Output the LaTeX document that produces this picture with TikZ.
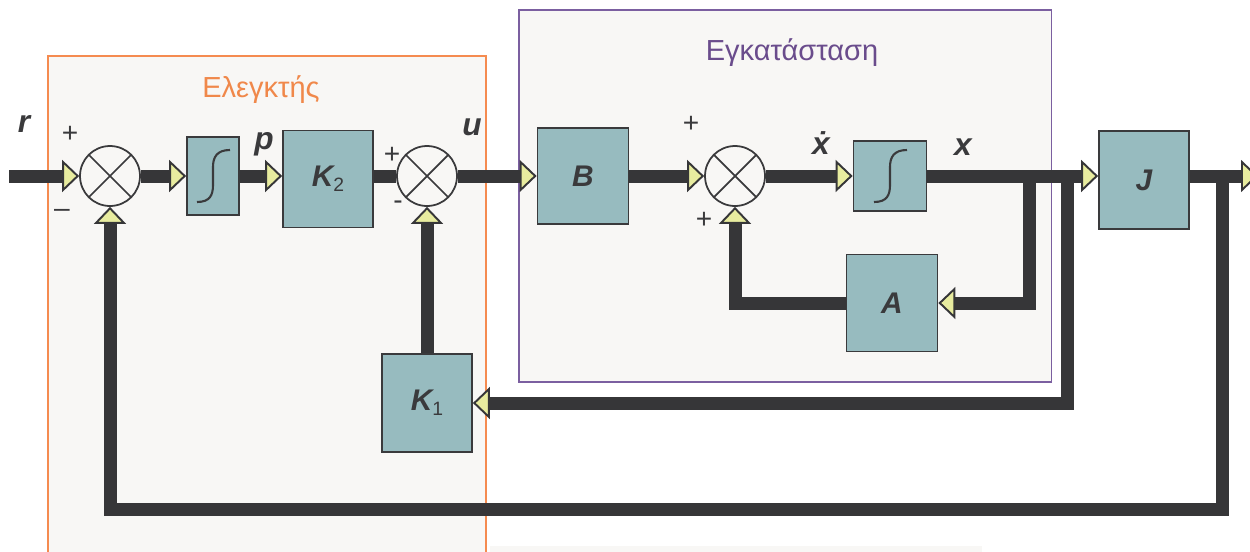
\documentclass[tikz,border=0pt]{standalone}
\usepackage{fontspec}
\setmainfont{Liberation Sans}
\usetikzlibrary{arrows.meta}

\definecolor{wirec}{HTML}{363638}
\definecolor{edgec}{HTML}{3A3A3C}
\definecolor{blockc}{HTML}{97BBBF}
\definecolor{tipc}{HTML}{E8EC9F}
\definecolor{panelc}{HTML}{F8F7F5}
\definecolor{ctrlc}{HTML}{F58B50}
\definecolor{plantc}{HTML}{7B5FA0}
\definecolor{ctrltext}{HTML}{F0884A}
\definecolor{planttext}{HTML}{6A4C8C}

\newcommand{\ksub}[1]{\raisebox{-0.3ex}{\fontsize{11}{11}\selectfont\mdseries\upshape#1}}

\begin{document}
\begin{tikzpicture}[
  x=0.02cm, y=-0.02cm,
  wire/.style={line width=0.26cm, draw=wirec},
  intip/.style={-{Triangle[length=0.34cm, width=0.64cm, fill=tipc, line width=1.1pt]}},
  block/.style={rectangle, draw=edgec, fill=blockc, line width=1pt, inner sep=0pt, text=edgec, font=\fontsize{17}{20}\selectfont\bfseries\itshape},
  sum/.style={circle, draw=edgec, fill=panelc, line width=1pt, minimum size=1.2cm, inner sep=0pt,
    path picture={\draw[edgec, line width=1pt] (path picture bounding box.north west) -- (path picture bounding box.south east)
      (path picture bounding box.north east) -- (path picture bounding box.south west);}},
  sig/.style={font=\fontsize{18}{20}\selectfont\bfseries\itshape, text=edgec, inner sep=0pt, anchor=base},
  pm/.style={font=\fontsize{16}{18}\selectfont, text=edgec, inner sep=0pt},
  panelbox/.style={fill=panelc, line width=0.9pt, inner sep=0pt, anchor=north west},
  paneltitle/.style={font=\fontsize{16.5}{20}\selectfont, inner sep=0pt, anchor=base},
  scurve/.style={draw=edgec, line width=1.2pt}
]
\useasboundingbox (0,0) rectangle (1250,551);
\fill[panelc] (490,546) rectangle (982,560);
\node[panelbox, draw=ctrlc, minimum width=8.76cm, minimum height=10.1cm] (ctrl) at (47,55) {};
\node[panelbox, draw=plantc, minimum width=10.66cm, minimum height=7.44cm] (plant) at (518,9) {};
\node[paneltitle, text=ctrltext] (ctrltitle) at (261,97) {Ελεγκτής};
\node[paneltitle, text=planttext] (planttitle) at (792,60) {Εγκατάσταση};

\node[sum] (sum1) at (110,176) {};
\node[block, minimum width=1.04cm, minimum height=1.56cm] (int1) at (213,176) {};
\node[block, minimum width=1.8cm, minimum height=1.94cm] (k2) at (328,179) {K\ksub{2}};
\node[sum] (sum2) at (427,176) {};
\node[block, minimum width=1.82cm, minimum height=1.92cm] (b) at (583,176) {B};
\node[sum] (sum3) at (735,176) {};
\node[block, minimum width=1.46cm, minimum height=1.4cm] (int2) at (890,176) {};
\node[block, minimum width=1.8cm, minimum height=1.96cm] (j) at (1144,180) {J};
\node[block, minimum width=1.82cm, minimum height=1.94cm] (a) at (892,303) {A};
\node[block, minimum width=1.8cm, minimum height=1.96cm] (k1) at (427,403) {K\ksub{1}};

\draw[scurve] (int1.center) ++(-16,26) .. controls +(13,0) and +(0,10) .. ++(16,-17) -- ++(0,-18) .. controls +(0,-10) and +(-13,0) .. ++(17,-17);
\draw[scurve] (int2.center) ++(-16,26) .. controls +(13,0) and +(0,10) .. ++(16,-17) -- ++(0,-18) .. controls +(0,-10) and +(-13,0) .. ++(17,-17);

\node[sig] (lr) at (24,132) {r};
\node[sig] (lp) at (264,149) {p};
\node[sig] (lu) at (472,135) {u};
\node[sig] (lxd) at (821,154) {\.{x}};
\node[sig] (lx) at (963,155) {x};
\node[pm] (s1p) at (70,134) {+};
\node[pm] (s1m) at (62,213) {–};
\node[pm] (s2p) at (392,155) {+};
\node[pm] (s2m) at (398,205) {-};
\node[pm] (s3p) at (691,124) {+};
\node[pm] (s3q) at (704,220) {+};

\coordinate (in) at (9,176);
\coordinate (out) at (1258,176);
\coordinate (brA) at (1029,176);
\coordinate (brK) at (1067,176);
\coordinate (brJ) at (1222,176);
\coordinate (low) at (1222,509);

\draw[wire, intip] (in) -- (sum1);
\draw[wire, intip] (sum1) -- (int1);
\draw[wire, intip] (int1) -- (int1 -| k2.west);
\draw[wire] (k2.east |- sum2) -- (sum2);
\draw[wire, intip] (sum2) -- (b);
\draw[wire, intip] (b) -- (sum3);
\draw[wire, intip] (sum3) -- (int2);
\draw[wire, intip] (int2) -- (int2 -| j.west);
\draw[wire, intip] (j.east |- out) -- (out);
\draw[wire, intip] (brA) |- (a);
\draw[wire, intip] (a) -| (sum3);
\draw[wire, intip] (brK) |- (k1);
\draw[wire, intip] (k1) -- (sum2);
\draw[wire, intip] (brJ) -- (low) -| (sum1);
\end{tikzpicture}
\end{document}
